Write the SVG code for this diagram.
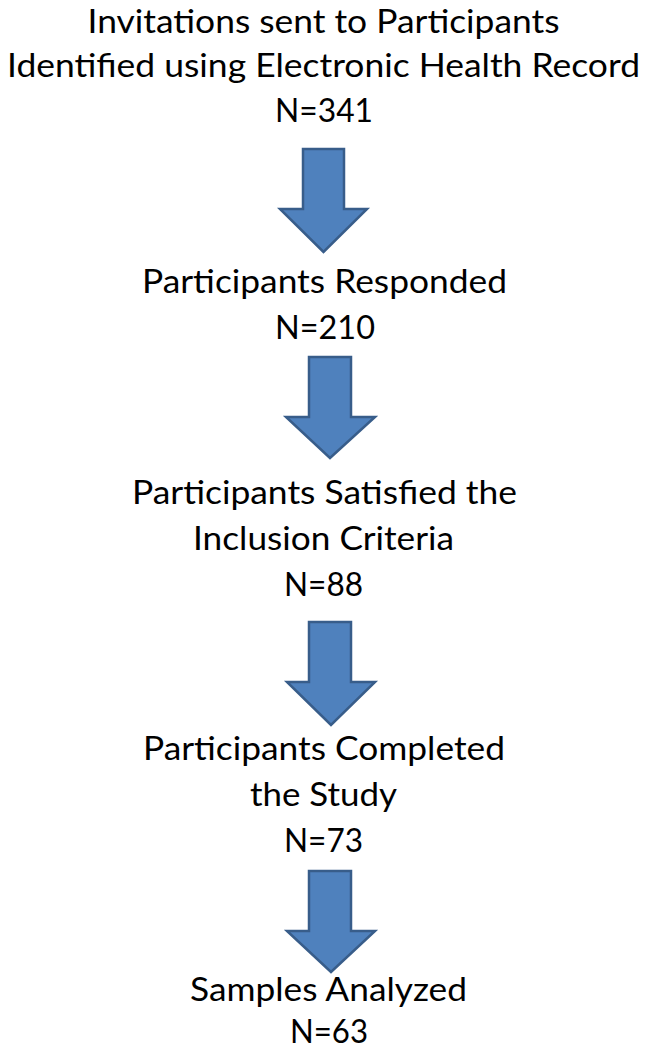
<svg xmlns="http://www.w3.org/2000/svg" width="646" height="1050" viewBox="0 0 646 1050">
<style>
.t{font-family:Lato,"Open Sans","Liberation Sans",sans-serif;font-size:33px;fill:#000;text-anchor:middle}
.arr{fill:#4F81BD;stroke:#385D8A;stroke-width:2.5;stroke-linejoin:miter}
</style>
<rect width="646" height="1050" fill="#fff"/>
<g id="node1">
<text class="t" x="323.5" y="33" textLength="472" lengthAdjust="spacingAndGlyphs">Invitations sent to Participants</text>
<text class="t" x="323.5" y="77" textLength="633" lengthAdjust="spacingAndGlyphs">Identified using Electronic Health Record</text>
<text class="t" x="324" y="122" textLength="98" lengthAdjust="spacingAndGlyphs">N=341</text>
</g>
<g id="node2">
<text class="t" x="324.5" y="293" textLength="365" lengthAdjust="spacingAndGlyphs">Participants Responded</text>
<text class="t" x="325" y="339" textLength="100" lengthAdjust="spacingAndGlyphs">N=210</text>
</g>
<g id="node3">
<text class="t" x="324.5" y="504" textLength="385" lengthAdjust="spacingAndGlyphs">Participants Satisfied the</text>
<text class="t" x="323.5" y="550" textLength="261" lengthAdjust="spacingAndGlyphs">Inclusion Criteria</text>
<text class="t" x="323.5" y="596" textLength="79" lengthAdjust="spacingAndGlyphs">N=88</text>
</g>
<g id="node4">
<text class="t" x="324" y="760" textLength="362" lengthAdjust="spacingAndGlyphs">Participants Completed</text>
<text class="t" x="323.5" y="806" textLength="147" lengthAdjust="spacingAndGlyphs">the Study</text>
<text class="t" x="323.5" y="852" textLength="79" lengthAdjust="spacingAndGlyphs">N=73</text>
</g>
<g id="node5">
<text class="t" x="328.5" y="1001" textLength="277" lengthAdjust="spacingAndGlyphs">Samples Analyzed</text>
<text class="t" x="329" y="1043" textLength="78" lengthAdjust="spacingAndGlyphs">N=63</text>
</g>
<g id="connectors">
<path class="arr" d="M303,149 H344 V209 H367 L323.5,252 L280,209 H303 Z"/>
<path class="arr" d="M309,357 H351 V417 H375 L330,458 L286,417 H309 Z"/>
<path class="arr" d="M309,622 H351 V682 H375 L331,725 L287,682 H309 Z"/>
<path class="arr" d="M309,871 H351 V931 H375 L331,972 L287,931 H309 Z"/>
</g>
</svg>
